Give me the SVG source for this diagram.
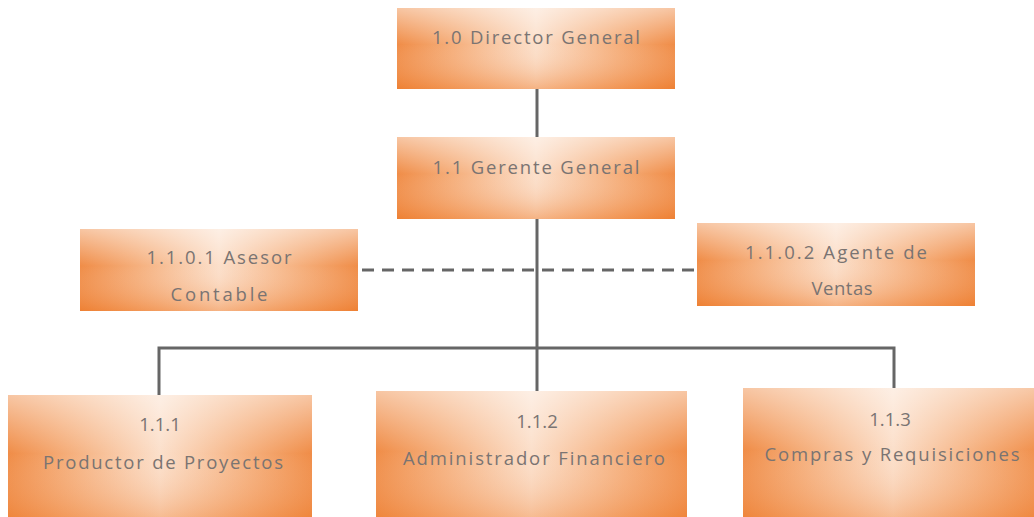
<svg xmlns="http://www.w3.org/2000/svg" width="1034" height="517" viewBox="0 0 1034 517">
  <defs>
    <!-- orange edges fading to a pale centre -->
    <linearGradient id="sides" x1="0" y1="0" x2="1" y2="0">
      <stop offset="0" stop-color="#ee8033"/>
      <stop offset="0.2" stop-color="#f4a56c"/>
      <stop offset="0.5" stop-color="#fbdcc5"/>
      <stop offset="0.8" stop-color="#f4a56c"/>
      <stop offset="1" stop-color="#ee8033"/>
    </linearGradient>
    <!-- highlight at the top, deeper tone towards the bottom -->
    <linearGradient id="shade" x1="0" y1="0" x2="0" y2="1">
      <stop offset="0" stop-color="#ffffff" stop-opacity="0.55"/>
      <stop offset="0.45" stop-color="#ffffff" stop-opacity="0.1"/>
      <stop offset="1" stop-color="#ee8033" stop-opacity="0.45"/>
    </linearGradient>
  </defs>
  <style>
    .box { fill: url(#sides); }
    .shade { fill: url(#shade); }
    .lbl { font-family: "Open Sans", "Liberation Sans", sans-serif; font-size: 18.5px; fill: #7a7472; text-anchor: middle; dominant-baseline: central; }
    .line { stroke: #666; stroke-width: 3; fill: none; }
    .dash { stroke: #666; stroke-width: 3; fill: none; stroke-dasharray: 12 8; }
  </style>

  <rect width="1034" height="517" fill="#ffffff"/>

  <g id="connectors">
    <path class="line" d="M537 88 V137"/>
    <path class="line" d="M537 219 V391"/>
    <path class="line" d="M159 395 V348 H894 V388"/>
    <path class="dash" d="M362 270 H695"/>
  </g>

  <g id="director">
    <rect class="box" x="397" y="8" width="278" height="81"/>
    <rect class="shade" x="397" y="8" width="278" height="81"/>
    <text class="lbl" x="536" y="36" textLength="208" lengthAdjust="spacing">1.0 Director General</text>
  </g>

  <g id="gerente">
    <rect class="box" x="397" y="137" width="278" height="82"/>
    <rect class="shade" x="397" y="137" width="278" height="82"/>
    <text class="lbl" x="536" y="166" textLength="207" lengthAdjust="spacing">1.1 Gerente General</text>
  </g>

  <g id="asesor">
    <rect class="box" x="80" y="229" width="278" height="82"/>
    <rect class="shade" x="80" y="229" width="278" height="82"/>
    <text class="lbl" x="219" y="256" textLength="145" lengthAdjust="spacing">1.1.0.1 Asesor</text>
    <text class="lbl" x="219" y="293" textLength="97" lengthAdjust="spacing">Contable</text>
  </g>

  <g id="agente">
    <rect class="box" x="697" y="223" width="278" height="83"/>
    <rect class="shade" x="697" y="223" width="278" height="83"/>
    <text class="lbl" x="836" y="251" textLength="182" lengthAdjust="spacing">1.1.0.2 Agente de</text>
    <text class="lbl" x="842" y="287" textLength="61" lengthAdjust="spacing">Ventas</text>
  </g>

  <g id="productor">
    <rect class="box" x="8" y="395" width="304" height="130"/>
    <rect class="shade" x="8" y="395" width="304" height="130"/>
    <text class="lbl" x="160" y="423">1.1.1</text>
    <text class="lbl" x="163" y="461" textLength="240" lengthAdjust="spacing">Productor de Proyectos</text>
  </g>

  <g id="administrador">
    <rect class="box" x="376" y="391" width="311" height="134"/>
    <rect class="shade" x="376" y="391" width="311" height="134"/>
    <text class="lbl" x="537" y="420">1.1.2</text>
    <text class="lbl" x="534" y="457" textLength="262" lengthAdjust="spacing">Administrador Financiero</text>
  </g>

  <g id="compras">
    <rect class="box" x="743" y="388" width="300" height="137"/>
    <rect class="shade" x="743" y="388" width="300" height="137"/>
    <text class="lbl" x="890" y="418">1.1.3</text>
    <text class="lbl" x="892" y="453" textLength="255" lengthAdjust="spacing">Compras y Requisiciones</text>
  </g>
</svg>
